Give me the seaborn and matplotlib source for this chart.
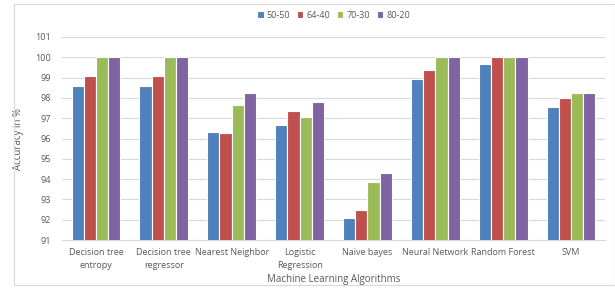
import matplotlib
matplotlib.use("Agg")
import matplotlib.pyplot as plt
import seaborn as sns
import pandas as pd
from matplotlib.patches import Rectangle

categories = ["Decision tree\nentropy", "Decision tree\nregressor", "Nearest Neighbor",
              "Logistic\nRegression", "Naïve bayes", "Neural Network", "Random Forest", "SVM"]
series_names = ["50-50", "64-40", "70-30", "80-20"]
s_50_50 = [98.6, 98.6, 96.3, 96.65, 92.1, 98.95, 99.65, 97.55]
s_64_40 = [99.1, 99.1, 96.25, 97.35, 92.5, 99.35, 100.0, 98.0]
s_70_30 = [100.0, 100.0, 97.65, 97.05, 93.85, 100.0, 100.0, 98.25]
s_80_20 = [100.0, 100.0, 98.25, 97.8, 94.3, 100.0, 100.0, 98.25]
yticks = list(range(91, 102))

colors = ["#4F81BD", "#C0504D", "#9BBB59", "#8064A2"]

rows = []
for name, vals in zip(series_names, [s_50_50, s_64_40, s_70_30, s_80_20]):
    for c, v in zip(categories, vals):
        rows.append({"Algorithm": c, "Split": name, "Accuracy": v})
df = pd.DataFrame(rows)

sns.set_style("white")
plt.rcParams['font.family'] = ['Open Sans', 'DejaVu Sans']

fig = plt.figure(figsize=(6.15, 2.95), dpi=100)
ax = fig.add_axes([62/615, 1-240/295, (605-62)/615, (240-37)/295])

sns.barplot(data=df, x="Algorithm", y="Accuracy", hue="Split", palette=colors,
            order=categories, hue_order=series_names, width=0.72, saturation=1,
            edgecolor="white", linewidth=0.8, ax=ax, zorder=3)

ax.set_ylim(91, 101)
ax.set_yticks(yticks)
ax.set_yticklabels([str(t) for t in yticks], fontsize=6.5, color="#595959")
ax.tick_params(axis="x", labelsize=6.5, colors="#595959", length=0, pad=6)
ax.tick_params(axis="y", length=0, pad=8)
for lbl in ax.get_xticklabels():
    lbl.set_linespacing(1.5)
ax.grid(axis="y", color="#D9D9D9", linewidth=0.8, zorder=0)
ax.set_axisbelow(True)
for s in ["top", "right", "left"]:
    ax.spines[s].set_visible(False)
ax.spines["bottom"].set_color("#D9D9D9")
ax.set_xlim(-0.5, len(categories) - 0.5)
ax.set_xlabel("Machine Learning Algorithms", fontsize=7, color="#595959", labelpad=3)
ax.set_ylabel("Accuracy in %", fontsize=7, color="#595959", labelpad=8)

leg = ax.legend(loc="upper center", bbox_to_anchor=(0.5, 1 + 30/203), ncol=4, frameon=False,
                fontsize=6.5, handlelength=0.7, handleheight=0.7, handletextpad=0.3,
                columnspacing=0.8, borderaxespad=0)
for t in leg.get_texts():
    t.set_color("#595959")

fig.patches.append(Rectangle((14/615, 10/295), 1 - 14/615 - 0.5/615, 1 - 14/295,
                             transform=fig.transFigure, fill=False,
                             edgecolor="#D9D9D9", linewidth=0.8))

fig.savefig("out.png", dpi=100)
